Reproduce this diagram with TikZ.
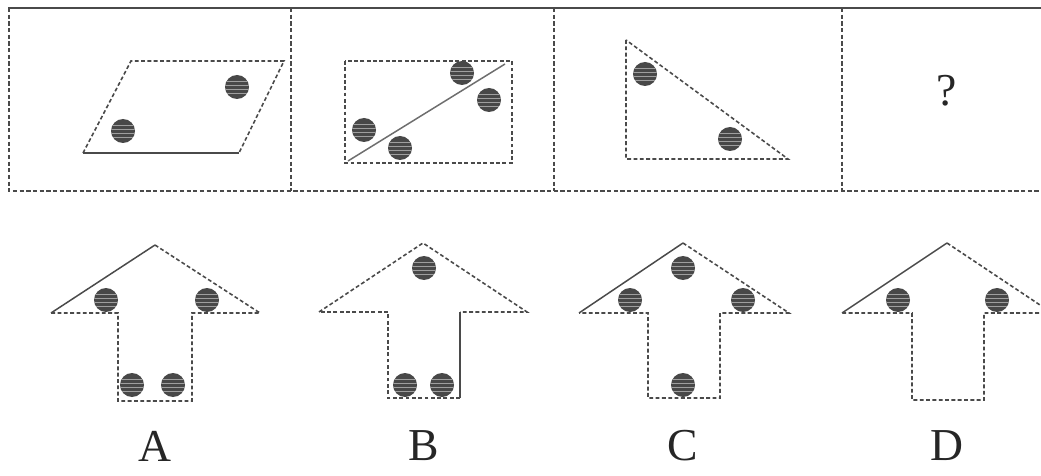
\documentclass[tikz,border=0pt]{standalone}
\usepackage{fontspec}
\setmainfont{Liberation Serif}
\usetikzlibrary{calc}
\definecolor{linec}{HTML}{4A4A4A}
\definecolor{ballc}{HTML}{484848}
\tikzset{
  frameline/.style={draw=linec, line width=1.2pt},
  framedash/.style={draw=linec, line width=1.1pt, dash pattern=on 2.4pt off 1.4pt},
  shapeline/.style={draw=linec, line width=0.85pt},
  shapedash/.style={draw=linec, line width=0.9pt, dash pattern=on 2.2pt off 1.4pt},
  lbl/.style={font=\fontsize{26}{30}\selectfont, text=black!85, inner sep=0pt},
}
\newcommand\ballat[2]{%
  \begin{scope}[shift={(#1,#2)}]
    \fill[ballc] (0,0) circle[radius=12];
    \begin{scope}
      \clip (0,0) circle[radius=12];
      \foreach \d in {-6,-2,2,6} \draw[gray!75, line width=0.35pt] (-13,\d) -- (13,\d);
    \end{scope}
  \end{scope}}
\begin{document}
\begin{tikzpicture}[x=0.02cm, y=-0.02cm]
\useasboundingbox (0,0) rectangle (1041,476);
\clip (0,0) rectangle (1041,476);
% frame
\draw[frameline] (8,8) -- (1041,8);
\draw[framedash] (9,8) -- (9,191) -- (1041,191);
\draw[framedash] (291,8) -- (291,191);
\draw[framedash] (554,8) -- (554,191);
\draw[framedash] (842,8) -- (842,191);
% panel 1: parallelogram
\draw[shapedash] (83,153) -- (131,61) -- (284,61) -- (239,153);
\draw[shapeline] (83,153) -- (239,153);
\ballat{237}{87}
\ballat{123}{131}
% panel 2: rectangle with diagonal
\draw[shapedash] (345,61) rectangle (512,163);
\draw[shapeline, draw=linec!80] (348,161) -- (505,64);
\ballat{462}{73}
\ballat{489}{100}
\ballat{364}{130}
\ballat{400}{148}
% panel 3: triangle
\draw[shapedash] (626,40) -- (626,159) -- (788,159) -- cycle;
\ballat{645}{74}
\ballat{730}{139}
% panel 4
\node[lbl] (q) at (947,91) {?};
% arrow A
\draw[shapeline] (51,313) -- (155,245);
\draw[shapedash] (155,245) -- (260,313) -- (192,313) -- (192,401) -- (118,401) -- (118,313) -- (51,313);
\ballat{106}{300}
\ballat{207}{300}
\ballat{132}{385}
\ballat{173}{385}
\node[lbl] (A) at (155,446) {A};
% arrow B
\draw[shapedash] (319,312) -- (423,243) -- (527,312) -- (460,312);
\draw[shapeline] (460,312) -- (460,398);
\draw[shapedash] (460,398) -- (388,398) -- (388,312) -- (319,312);
\ballat{424}{268}
\ballat{405}{385}
\ballat{442}{385}
\node[lbl] (B) at (424,446) {B};
% arrow C
\draw[shapeline] (579,313) -- (683,243);
\draw[shapedash] (683,243) -- (789,313) -- (720,313) -- (720,398) -- (648,398) -- (648,313) -- (579,313);
\ballat{683}{268}
\ballat{630}{300}
\ballat{743}{300}
\ballat{683}{385}
\node[lbl] (C) at (683,446) {C};
% arrow D
\draw[shapeline] (842,313) -- (947,243);
\draw[shapedash] (947,243) -- (1052,313) -- (984,313) -- (984,400) -- (912,400) -- (912,313) -- (842,313);
\ballat{898}{300}
\ballat{997}{300}
\node[lbl] (D) at (947,446) {D};
\end{tikzpicture}
\end{document}
